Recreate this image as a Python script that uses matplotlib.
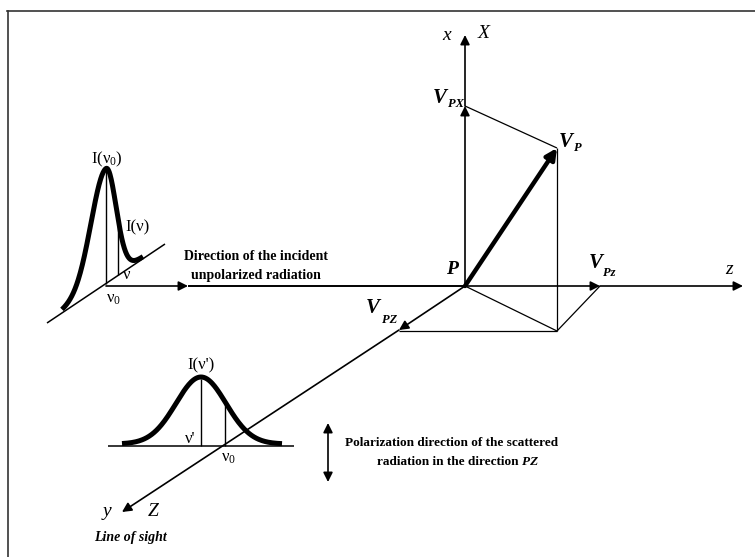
import numpy as np
import matplotlib.pyplot as plt

# ----------------------------
# Diagram geometry (pixel coords, y pointing down)
# ----------------------------
P = (465, 286)
x_tip = (465, 35)
vpx = (465, 106)
vp = (557, 148)
vpz_small = (600, 286)      # V_Pz on the z axis
z_tip = (743, 286)
vpz_big = (399, 330)        # V_PZ on the y axis
y_tip = (122, 512)
corner = (557, 331)

inc_start = (106, 286)
inc_head = (188, 286)

# incident line profile (on a slanted baseline)
top_base = [(47, 323), (165, 244)]
top_center = 106
top_peak = 113          # height in px
top_sig_left, top_sig_right = 15, 10
top_nu = 118            # position of the I(nu) mark

# scattered line profile
bot_base = [(108, 446), (294, 446)]
bot_center = 201
bot_peak = 67
bot_sig = 25
bot_nu = 225

serif = "Liberation Serif"
plt.rcParams["mathtext.fontset"] = "custom"
plt.rcParams["mathtext.rm"] = serif
plt.rcParams["mathtext.it"] = serif + ":italic"
plt.rcParams["mathtext.bf"] = serif + ":bold"

fig = plt.figure(figsize=(7.55, 5.57), dpi=100)
ax = fig.add_axes([0, 0, 1, 1])
ax.set_xlim(0, 755)
ax.set_ylim(557, 0)
ax.axis("off")


def line(a, b, lw=1.0, **kw):
    ax.plot([a[0], b[0]], [a[1], b[1]], color="black", lw=lw,
            solid_capstyle="butt", **kw)


def arrow(a, b, lw=1.2, ms=14):
    ax.annotate("", xy=b, xytext=a,
                arrowprops=dict(arrowstyle="-|>", color="black", lw=lw,
                                mutation_scale=ms, shrinkA=0, shrinkB=0))


def label(x, y, s, size=14, style="italic", weight="normal", ha="center"):
    ax.text(x, y, s, fontsize=size, fontstyle=style, fontweight=weight,
            family=serif, ha=ha, va="center")


def vlabel(x, y, sub, dx, dy, subsize=9):
    label(x, y, "V", size=15, weight="bold")
    ax.text(x + dx, y + dy, sub, fontsize=subsize, fontstyle="italic",
            fontweight="bold", family=serif, ha="left", va="center")


# frame (top and left only)
ax.plot([7, 755], [10.5, 10.5], color="#333333", lw=1.2)
ax.plot([7.5, 7.5], [10.5, 557], color="#333333", lw=1.2)

# x axis
arrow(P, vpx)
arrow(vpx, x_tip)
# z axis + incident direction
arrow(inc_start, inc_head)
line(inc_head, P, lw=1.4)
arrow(P, vpz_small)
arrow(vpz_small, z_tip)
# y axis (line of sight)
arrow(P, vpz_big)
arrow(vpz_big, y_tip)

# projections
line(vpx, vp, lw=0.9)
line(vp, corner, lw=0.9)
line(P, corner, lw=0.9)
line(corner, vpz_small, lw=0.9)
line(corner, (vpz_big[0], corner[1]), lw=0.9)

# V_P vector
arrow(P, vp, lw=3.2, ms=16)

# top profile
line(top_base[0], top_base[1], lw=1.1)
slope = (top_base[1][1] - top_base[0][1]) / (top_base[1][0] - top_base[0][0])
base_y0 = top_base[0][1] + slope * (top_center - top_base[0][0])
xs = np.linspace(62, 143, 200)
sig = np.where(xs < top_center, top_sig_left, top_sig_right)
hs = top_peak * np.exp(-0.5 * ((xs - top_center) / sig) ** 2)
base = base_y0 + slope * (xs - top_center)
ax.plot(xs, base - hs - 2, color="black", lw=3.6, solid_capstyle="butt")
line((top_center, base_y0), (top_center, base_y0 - top_peak), lw=1.0)
h_nu = top_peak * np.exp(-0.5 * ((top_nu - top_center) / top_sig_right) ** 2)
b_nu = base_y0 + slope * (top_nu - top_center)
line((top_nu, b_nu), (top_nu, b_nu - h_nu - 1), lw=1.0)

# bottom profile
line(bot_base[0], bot_base[1], lw=1.1)
xs = np.linspace(122, 282, 200)
hs = bot_peak * np.exp(-0.5 * ((xs - bot_center) / bot_sig) ** 2)
ax.plot(xs, bot_base[0][1] - hs - 2, color="black", lw=3.6,
        solid_capstyle="butt")
line((bot_center, bot_base[0][1]), (bot_center, bot_base[0][1] - bot_peak), lw=1.0)
h2 = bot_peak * np.exp(-0.5 * ((bot_nu - bot_center) / bot_sig) ** 2)
line((bot_nu, bot_base[0][1]), (bot_nu, bot_base[0][1] - h2), lw=1.0)

# polarization double arrow
ax.annotate("", xy=(328, 423), xytext=(328, 482),
            arrowprops=dict(arrowstyle="<|-|>", color="black", lw=1.2,
                            mutation_scale=14, shrinkA=0, shrinkB=0))

# labels
label(447, 35, "x")
label(484, 34, "X")
label(452, 270, "P", weight="bold")
label(729, 270, "z")
label(107, 512, "y")
label(153, 512, "Z")
label(130, 537, "Line of sight", size=10, weight="bold")

vlabel(440, 98, "PX", 8, 6)
vlabel(566, 142, "P", 8, 6)
vlabel(596, 263, "Pz", 7, 10)
vlabel(373, 308, "PZ", 9, 12)

label(107, 159, "I(ν$_0$)", size=12, style="normal")
label(138, 227, "I(ν)", size=12, style="normal")
label(127, 275, "ν", size=12, style="normal")
label(114, 299, "ν$_0$", size=12, style="normal")
label(201, 365, "I(ν')", size=12, style="normal")
label(190, 439, "ν'", size=12, style="normal")
label(229, 458, "ν$_0$", size=12, style="normal")

label(256, 257, "Direction of the incident", size=10, style="normal", weight="bold")
label(256, 275, "unpolarized radiation", size=10, style="normal", weight="bold")
label(452, 443, "Polarization direction of the scattered", size=9.5,
      style="normal", weight="bold")
label(522, 462, "radiation in the direction ", size=9.5, style="normal",
      weight="bold", ha="right")
label(522, 462, "PZ", size=9.5, weight="bold", ha="left")

fig.savefig("out.png", dpi=100)
